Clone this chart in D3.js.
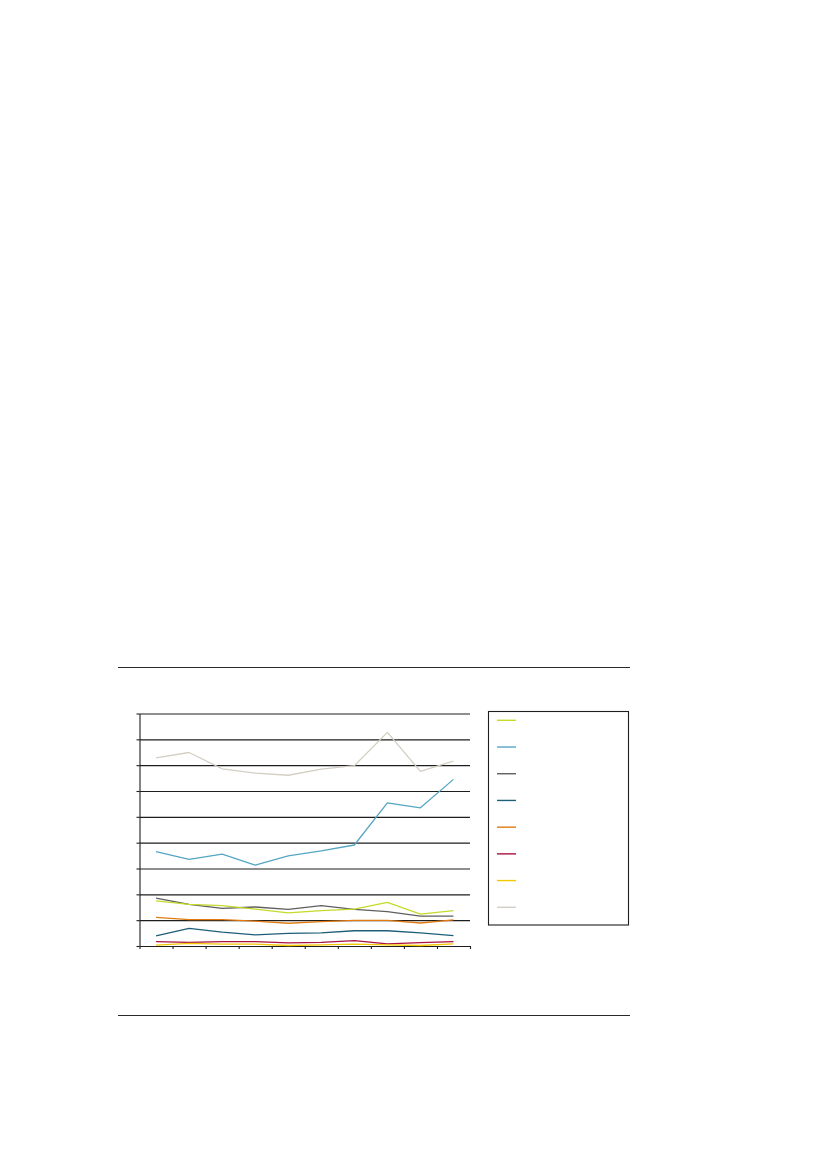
<!DOCTYPE html>
<html>
<head>
<meta charset="utf-8">
<script src="https://cdn.jsdelivr.net/npm/d3@7"></script>
<style>
html,body{margin:0;padding:0;background:#fff;}
svg{display:block;}
</style>
</head>
<body>
<svg id="chart" width="827" height="1169"></svg>
<script>
// ---- data (in grid units) ----
const categories = ["1","2","3","4","5","6","7","8","9","10"];
const seriesNames = ["s1","s2","s3","s4","s5","s6","s7","s8"];
const seriesColors = ["#c5da2a","#55a6c2","#5f5f5f","#1f5e78","#e07b12","#aa1240","#f2c800","#d3cfc3"];
const s1 = [1.75,1.61,1.56,1.43,1.28,1.37,1.43,1.69,1.23,1.37];
const s2 = [3.65,3.35,3.56,3.13,3.49,3.68,3.91,5.54,5.35,6.45];
const s3 = [1.85,1.61,1.46,1.51,1.42,1.56,1.42,1.33,1.16,1.16];
const s4 = [0.39,0.68,0.54,0.43,0.49,0.51,0.59,0.59,0.51,0.40];
const s5 = [1.11,1.02,1.02,0.96,0.88,0.94,0.99,0.99,0.89,1.01];
const s6 = [0.17,0.14,0.17,0.17,0.12,0.14,0.21,0.08,0.13,0.17];
const s7 = [0.03,0.10,0.07,0.07,0.02,0.04,0.07,0.04,0.02,0.08];
const s8 = [7.28,7.49,6.86,6.69,6.61,6.85,6.98,8.27,6.76,7.16];
const seriesValues = [s1,s2,s3,s4,s5,s6,s7,s8];
const yTicks = [0,1,2,3,4,5,6,7,8,9];

(function(){
const svg = d3.select("#chart");

// horizontal rules framing the figure
svg.append("g").selectAll("line").data([667.5,1015.5]).join("line")
  .attr("x1",118).attr("x2",630).attr("y1",d=>d).attr("y2",d=>d)
  .attr("stroke","#2a2a2a").attr("stroke-width",1);

const pLeft = 139.5, pRight = 470, pTop = 713.5, pBottom = 946;
const x = d3.scaleLinear().domain([0, categories.length]).range([pLeft, pRight]);
const y = d3.scaleLinear().domain([0, 9]).range([pBottom, pTop]);

// gridlines
svg.append("g")
  .attr("transform",`translate(${pLeft},0)`)
  .call(d3.axisLeft(y).tickValues(yTicks.slice(1)).tickSize(-(pRight-pLeft)).tickFormat(""))
  .call(g=>g.select(".domain").remove())
  .call(g=>g.selectAll("line").attr("stroke","#1e1e1e").attr("stroke-width",1.1));

// left axis with outward ticks
svg.append("g")
  .attr("transform",`translate(${pLeft},0)`)
  .call(d3.axisLeft(y).tickValues(yTicks).tickSizeInner(3).tickSizeOuter(0).tickFormat(""))
  .call(g=>g.selectAll("path,line").attr("stroke","#1e1e1e").attr("stroke-width",1.1));

// bottom axis with ticks at category boundaries
svg.append("g")
  .attr("transform",`translate(0,${pBottom})`)
  .call(d3.axisBottom(x).tickValues(d3.range(categories.length+1)).tickSizeInner(3).tickSizeOuter(0).tickFormat(""))
  .call(g=>g.selectAll("path,line").attr("stroke","#1e1e1e").attr("stroke-width",1.1));

// lines
const line = d3.line().x((d,i)=>x(i+0.5)).y(d=>y(d));
const drawOrder = [7,1,2,0,4,3,5,6];
svg.append("g").selectAll("path").data(drawOrder).join("path")
  .attr("d",k=>line(seriesValues[k]))
  .attr("fill","none")
  .attr("stroke",k=>seriesColors[k])
  .attr("stroke-width",1.3)
  .attr("stroke-linejoin","round");

// legend
const lg = svg.append("g");
lg.append("rect").attr("x",488.5).attr("y",711.5).attr("width",140).attr("height",213.5)
  .attr("fill","#fff").attr("stroke","#1e1e1e").attr("stroke-width",1.1);
const ly = d3.scalePoint().domain(seriesNames).range([720.3, 907.3]);
lg.selectAll("line.key").data(seriesNames).join("line").attr("class","key")
  .attr("x1",497).attr("x2",516)
  .attr("y1",d=>ly(d)).attr("y2",d=>ly(d))
  .attr("stroke",(d,i)=>seriesColors[i]).attr("stroke-width",1.4);
})();
</script>
</body>
</html>
